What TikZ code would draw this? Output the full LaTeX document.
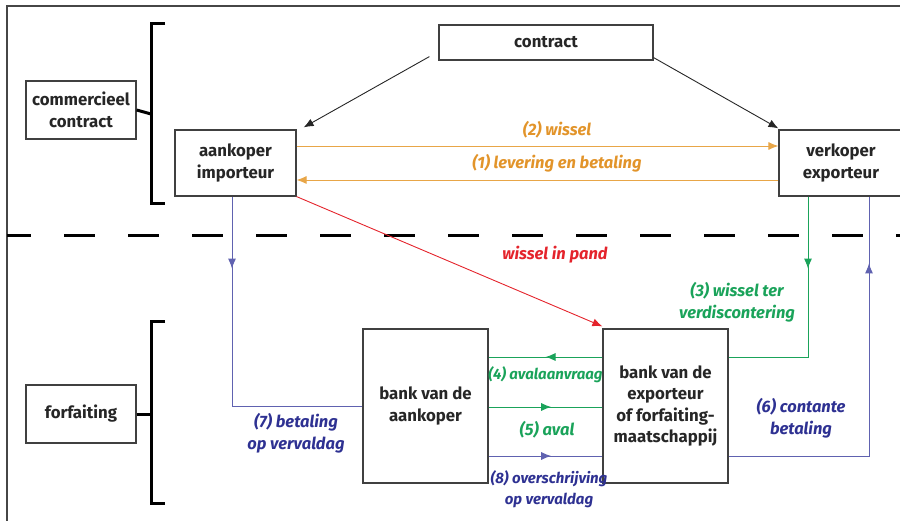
\documentclass[tikz,border=0pt]{standalone}
\usepackage{fontspec}
\setmainfont{Fira Sans}
\usetikzlibrary{arrows.meta,decorations.markings}
\definecolor{orng}{RGB}{226,148,42}
\definecolor{orngline}{RGB}{232,166,72}
\definecolor{grn}{RGB}{26,163,90}
\definecolor{blu}{RGB}{46,49,146}
\definecolor{bluline}{RGB}{96,98,176}
\definecolor{rd}{RGB}{228,36,44}
\definecolor{frame}{RGB}{70,70,70}
\tikzset{
  box/.style={draw=black!75, line width=1.2pt, fill=white, align=center,
    font=\fontsize{16.8}{21.5}\selectfont\bfseries, text=black!85, inner sep=0pt},
  lbl/.style={align=center, font=\fontsize{16.5}{21.5}\selectfont\bfseries\itshape},
  lblsmall/.style={align=center, font=\fontsize{15}{21.5}\selectfont\bfseries\itshape},
  conn/.style={line width=0.9pt},
  endtip/.style={-{Latex[length=10pt,width=8pt]}},
  midtip/.style={postaction={decorate},
    decoration={markings, mark=at position #1 with {\arrow{Latex[length=10pt,width=8pt]}}}},
  brk/.style={line width=3pt, line cap=butt}
}
\begin{document}
\begin{tikzpicture}[x=1pt,y=-1pt]
\useasboundingbox (0,0) rectangle (900,521);
% frame
\draw[frame, line width=1.2pt] (7,521) -- (7,6) -- (900,6);
% dashed separator
\draw[line width=3pt, dash pattern=on 31pt off 33pt, dash phase=7pt] (7,236) -- (900,236);

% nodes
\node[box, minimum width=214pt, minimum height=35pt] (contract) at (546,42.5) {contract};
\node[box, minimum width=110pt, minimum height=58pt] (comm) at (81,110) {commercieel\\contract};
\node[box, minimum width=121pt, minimum height=66pt] (aank) at (235.5,163) {aankoper\\importeur};
\node[box, minimum width=124pt, minimum height=66pt] (verk) at (841,163) {verkoper\\exporteur};
\node[box, minimum width=110pt, minimum height=58pt] (forf) at (81,414) {forfaiting};
\node[box, minimum width=125pt, minimum height=154pt] (bankA) at (425.5,406) {bank van de\\aankoper};
\node[box, minimum width=125pt, minimum height=154pt] (bankE) at (665.5,406) {bank van de\\exporteur\\of forfaiting-\\maatschappij};

% brackets
\draw[brk] (165,24) -- (151,24) -- (151,204) -- (165,204);
\draw[brk] (comm.east) -- (151,114);
\draw[brk] (165,322) -- (151,322) -- (151,503) -- (165,503);
\draw[brk] (forf.east) -- (151,414);

% contract arrows
\draw[conn, black!85, endtip] ([xshift=-9pt,yshift=4pt]contract.south west) -- ([xshift=7pt,yshift=2pt]aank.north east);
\draw[conn, black!85, endtip] ([yshift=3pt]contract.south east) -- ([yshift=1pt]verk.north west);

% orange
\draw[conn, orngline, endtip] ([yshift=17pt]aank.east) -- ([yshift=17pt]aank.east -| verk.west);
\draw[conn, orngline, endtip] ([yshift=-17pt]aank.east -| verk.west) -- ([yshift=-17pt]aank.east);
\node[lbl, text=orng] (l2) at (557,130) {(2) wissel};
\node[lbl, text=orng] (l1) at (557,163) {(1) levering en betaling};

% red
\draw[conn, rd, endtip] (aank.south east) -- ([yshift=2pt]bankE.north west);
\node[lbl, text=rd] (lp) at (555,255) {wissel in pand};

% blue (7)
\draw[conn, bluline, midtip=72pt] ([xshift=-3.5pt]aank.south) |- (bankA.west);
\node[lbl, text=blu] (l7) at (296,433) {(7) betaling\\op vervaldag};

% green (3)
\draw[conn, grn, midtip=72pt] ([xshift=-33pt]verk.south) |- ([yshift=49pt]bankE.east);
\node[lbl, text=grn] (l3) at (737,302) {(3) wissel ter\\verdiscontering};

% blue (6)
\draw[conn, bluline, midtip=333pt] ([yshift=-50pt]bankE.east) -| ([xshift=28pt]verk.south);
\node[lbl, text=blu] (l6) at (801,418) {(6) contante\\betaling};

% between banks
\draw[conn, grn, midtip=0.5] ([yshift=49pt]bankE.west) -- ([yshift=49pt]bankA.east);
\node[lblsmall, text=grn] (l4) at (545.5,375) {(4) avalaanvraag};
\draw[conn, grn, midtip=0.55] ([yshift=-1pt]bankA.east) -- ([yshift=-1pt]bankE.west);
\node[lbl, text=grn] (l5) at (547,430) {(5) aval};
\draw[conn, bluline, midtip=0.55] ([yshift=-50pt]bankA.east) -- ([yshift=-50pt]bankE.west);
\node[lblsmall, text=blu] (l8) at (549,489) {(8) overschrijving\\op vervaldag};
\end{tikzpicture}
\end{document}
